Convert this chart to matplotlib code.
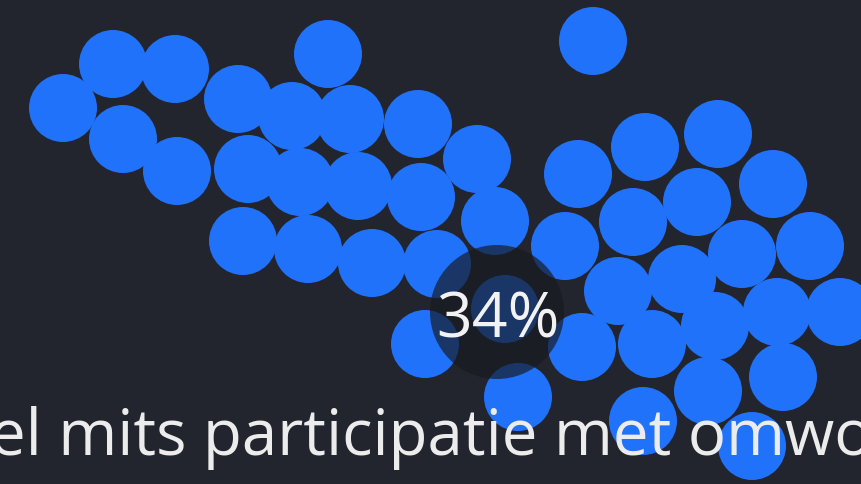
import matplotlib.pyplot as plt
from matplotlib.patches import Circle

# bubble positions (pixels)
bubble_x = [63, 113, 175, 328, 238, 292, 350, 418, 123, 177, 248, 300, 358, 421,
            243, 308, 372, 437, 477, 495, 593, 578, 645, 718, 773, 697, 633, 565,
            742, 810, 618, 682, 777, 840, 715, 652, 582, 425, 518, 708, 783, 643,
            752, 505]
bubble_y = [109, 65, 70, 55, 100, 117, 120, 125, 140, 172, 170, 183, 187, 198,
            242, 250, 264, 265, 160, 222, 42, 175, 148, 135, 185, 203, 223, 247,
            255, 247, 292, 280, 313, 313, 327, 345, 348, 345, 398, 392, 378, 422,
            447, 310]
bubble_r = 34

highlight = (497, 313)
highlight_r = 67
highlight_label = "34%"
caption = "el mits participatie met omwo"

bg = "#22252d"
blue = "#2172fb"

fig = plt.figure(figsize=(8.61, 4.85), dpi=100, facecolor=bg)
ax = fig.add_axes([0, 0, 1, 1])
ax.set_facecolor(bg)
ax.set_xlim(0, 861)
ax.set_ylim(485, 0)
ax.set_aspect("equal")
ax.axis("off")

for x, y in zip(bubble_x, bubble_y):
    ax.add_patch(Circle((x, y), bubble_r, color=blue, lw=0))

# dark hover overlay
ax.add_patch(Circle(highlight, highlight_r, color="#181a21", alpha=0.68, lw=0))

ax.text(highlight[0] + 1, highlight[1] + 8, highlight_label, color="#f2f2f2",
        fontsize=45, family="Open Sans", ha="center", va="center")

# caption runs off both edges like in the original
cap = fig.text(-0.012, 0.062, caption, color="#ececec", fontsize=40,
               family="Open Sans", ha="left", va="baseline")
fig.canvas.draw()
w = cap.get_window_extent().width
cap.set_fontsize(40 * 880 / w)

fig.savefig("out.png", dpi=100, facecolor=bg)
